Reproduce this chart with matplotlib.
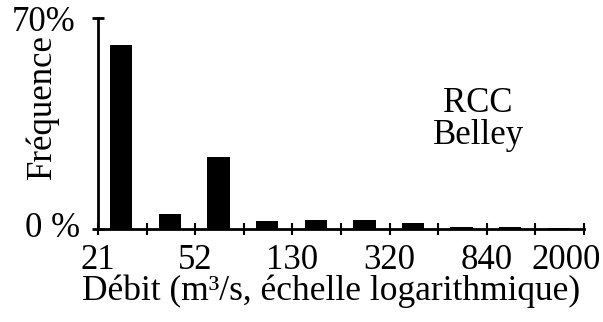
#!/usr/bin/env python3

import matplotlib.pyplot as plt
import matplotlib.transforms as mtransforms
import numpy as np

plt.rcParams['font.family'] = ['Liberation Serif', 'DejaVu Serif']

# data
q_min, q_max = 21, 2000
n_classes = 10
freq = [61, 5, 24, 2.8, 3, 3, 1.9, 0.7, 0.7, 0.3]   # %
tick_labels = ['21', '52', '130', '320', '840', '2000']
station = 'RCC\nBelley'

r = (q_max / q_min) ** (1.0 / n_classes)
edges = q_min * r ** np.arange(n_classes + 1)
left = q_min * r ** (np.arange(n_classes) + 0.25)
right = q_min * r ** (np.arange(n_classes) + 0.71)

fig = plt.figure(figsize=(6.03, 3.22), dpi=100)
ax = fig.add_axes([0.1625, 0.289, 0.806, 0.655])

ax.bar(left, np.array(freq), width=right - left, align='edge', color='k')

ax.set_xscale('log')
ax.set_xlim(edges[0], edges[-1])
ax.set_ylim(0, 70)

fs = 25
ax.set_xticks(edges)
ax.xaxis.set_minor_locator(plt.NullLocator())
ax.set_xticklabels([tick_labels[i // 2] if i % 2 == 0 else '' for i in range(len(edges))],
                   fontsize=fs)
ax.tick_params(axis='x', direction='inout', length=8, width=1.5, pad=7)
# le dernier label est decale vers la gauche pour rester dans l'image
last = ax.get_xticklabels()[-1]
last.set_transform(last.get_transform() +
                   mtransforms.ScaledTranslation(-0.18, 0, fig.dpi_scale_trans))

ax.set_yticks([0, 70])
ax.set_yticklabels(['0 %', '70%'], fontsize=fs)
ax.tick_params(axis='y', direction='inout', length=9, width=2, pad=12)
ylab0 = ax.get_yticklabels()[0]
ylab0.set_transform(ylab0.get_transform() +
                    mtransforms.ScaledTranslation(0.05, 0.04, fig.dpi_scale_trans))

for s in ['top', 'right']:
    ax.spines[s].set_visible(False)
for s in ['left', 'bottom']:
    ax.spines[s].set_linewidth(2)

ax.set_ylabel('Fréquence', fontsize=fs)
ax.yaxis.set_label_coords(-0.08, 0.58)
ax.set_xlabel('Débit (m³/s, échelle logarithmique)', fontsize=25.5)
ax.xaxis.set_label_coords(0.48, -0.215)

ax.text(0.782, 0.52, station, transform=ax.transAxes, ha='center', va='center',
        fontsize=fs, linespacing=0.95)

plt.savefig('out.png', dpi=100)
